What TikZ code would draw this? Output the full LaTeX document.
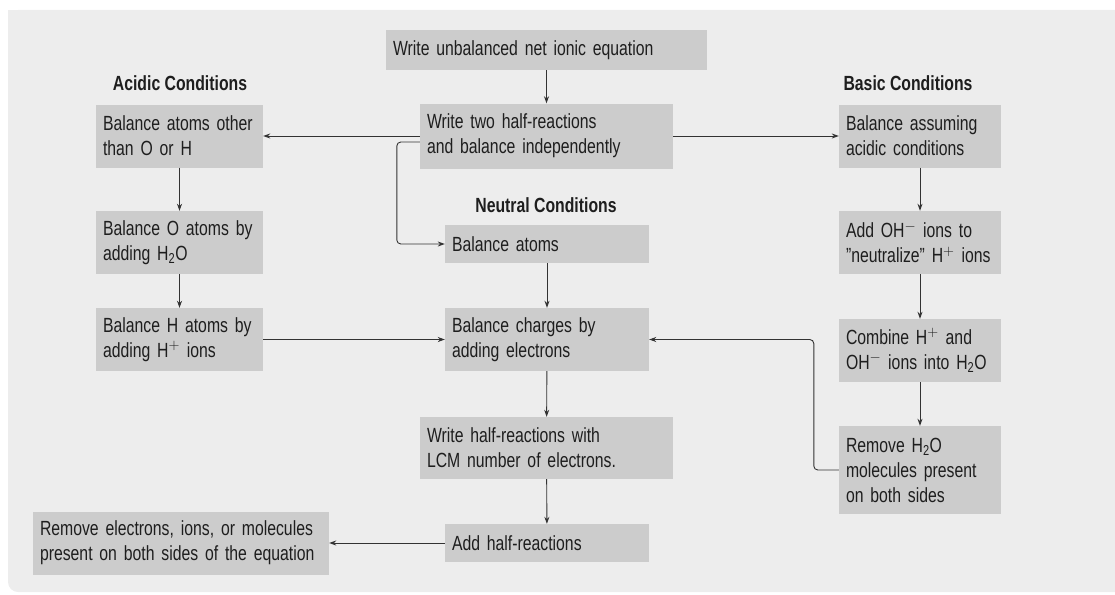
\documentclass[tikz,border=0pt]{standalone}
\usepackage{fontspec}
\setmainfont{Liberation Sans}[FakeStretch=0.77]
\usepackage{xcolor}
\usetikzlibrary{arrows.meta}
\definecolor{panelgray}{HTML}{EDEDED}
\definecolor{boxgray}{HTML}{CCCCCC}
\definecolor{inkgray}{HTML}{1E1E1E}
\definecolor{linegray}{HTML}{333333}

\begin{document}
\begin{tikzpicture}[x=1pt,y=-1pt,
    stepbox/.style={fill=boxgray, text=inkgray, align=left, anchor=center,
        inner xsep=7pt, inner ysep=0pt, font=\fontsize{20.5}{25}\selectfont},
    heading/.style={text=inkgray, font=\fontsize{20.5}{25}\selectfont\bfseries},
    arr/.style={draw=linegray, line width=0.9pt, -{Stealth[length=7pt,width=5pt]}},
    ]
    \useasboundingbox (0,0) rectangle (1115,594);

    % Panel with one rounded corner
    \fill[panelgray, rounded corners=10pt] (8,10) rectangle (1135,592);
    \fill[panelgray] (8,10) rectangle (40,40);

    % Centre column
    \node[stepbox, text width=307pt, minimum height=40pt] (unbal) at (546.5,50) {Write unbalanced net ionic equation};
    \node[stepbox, text width=239pt, minimum height=65pt] (halves) at (546.5,136) {Write two half-reactions\\and balance independently};
    \node[heading] (neutral) at (546,205) {Neutral Conditions};
    \node[stepbox, text width=190pt, minimum height=38pt] (atoms) at (547,244) {Balance atoms};
    \node[stepbox, text width=190pt, minimum height=63pt] (charges) at (547,339.5) {Balance charges by\\adding electrons};
    \node[stepbox, text width=239pt, minimum height=62pt] (lcm) at (546.5,448) {Write half-reactions with\\LCM number of electrons.};
    \node[stepbox, text width=190pt, minimum height=38pt] (addhalf) at (547,543) {Add half-reactions};
    \node[stepbox, text width=282pt, minimum height=63pt] (cancel) at (181,543) {Remove electrons, ions, or molecules\\present on both sides of the equation};

    % Acidic column
    \node[heading] (acidic) at (180,83) {Acidic Conditions};
    \node[stepbox, text width=153pt, minimum height=63pt] (acid1) at (179.5,136) {Balance atoms other\\than O or H};
    \node[stepbox, text width=153pt, minimum height=63pt] (acid2) at (179.5,242.5) {Balance O atoms by\\adding H\textsubscript{2}O};
    \node[stepbox, text width=153pt, minimum height=63pt] (acid3) at (179.5,339.5) {Balance H atoms by\\adding H$^{+}$ ions};

    % Basic column
    \node[heading] (basic) at (908,83) {Basic Conditions};
    \node[stepbox, text width=148pt, minimum height=63pt] (base1) at (920,136) {Balance assuming\\acidic conditions};
    \node[stepbox, text width=148pt, minimum height=63pt] (base2) at (920,242.5) {Add OH$^{-}$ ions to\\''neutralize'' H$^{+}$ ions};
    \node[stepbox, text width=148pt, minimum height=63pt] (base3) at (920,350.5) {Combine H$^{+}$ and\\OH$^{-}$ ions into H\textsubscript{2}O};
    \node[stepbox, text width=148pt, minimum height=88pt] (base4) at (920,470) {Remove H\textsubscript{2}O\\molecules present\\on both sides};

    % Connectors
    \draw[arr] (unbal) -- (halves);
    \draw[arr] (halves.west) -- (acid1.east);
    \draw[arr] (halves.east) -- (base1.west);
    \draw[arr, rounded corners=4pt] ([yshift=-6pt]halves.west) -- ++(-23,0) |- (atoms.west);
    \draw[arr] (acid1) -- (acid2);
    \draw[arr] (acid2) -- (acid3);
    \draw[arr] (acid3.east) -- (charges.west);
    \draw[arr] (atoms) -- (charges);
    \draw[arr] (charges) -- (lcm);
    \draw[arr] (lcm) -- (addhalf);
    \draw[arr] (addhalf.west) -- (cancel.east);
    \draw[arr] (base1) -- (base2);
    \draw[arr] (base2) -- (base3);
    \draw[arr] (base3) -- (base4);
    \draw[arr, rounded corners=4pt] (base4.west) -- ++(-25,0) |- (charges.east);
\end{tikzpicture}
\end{document}
